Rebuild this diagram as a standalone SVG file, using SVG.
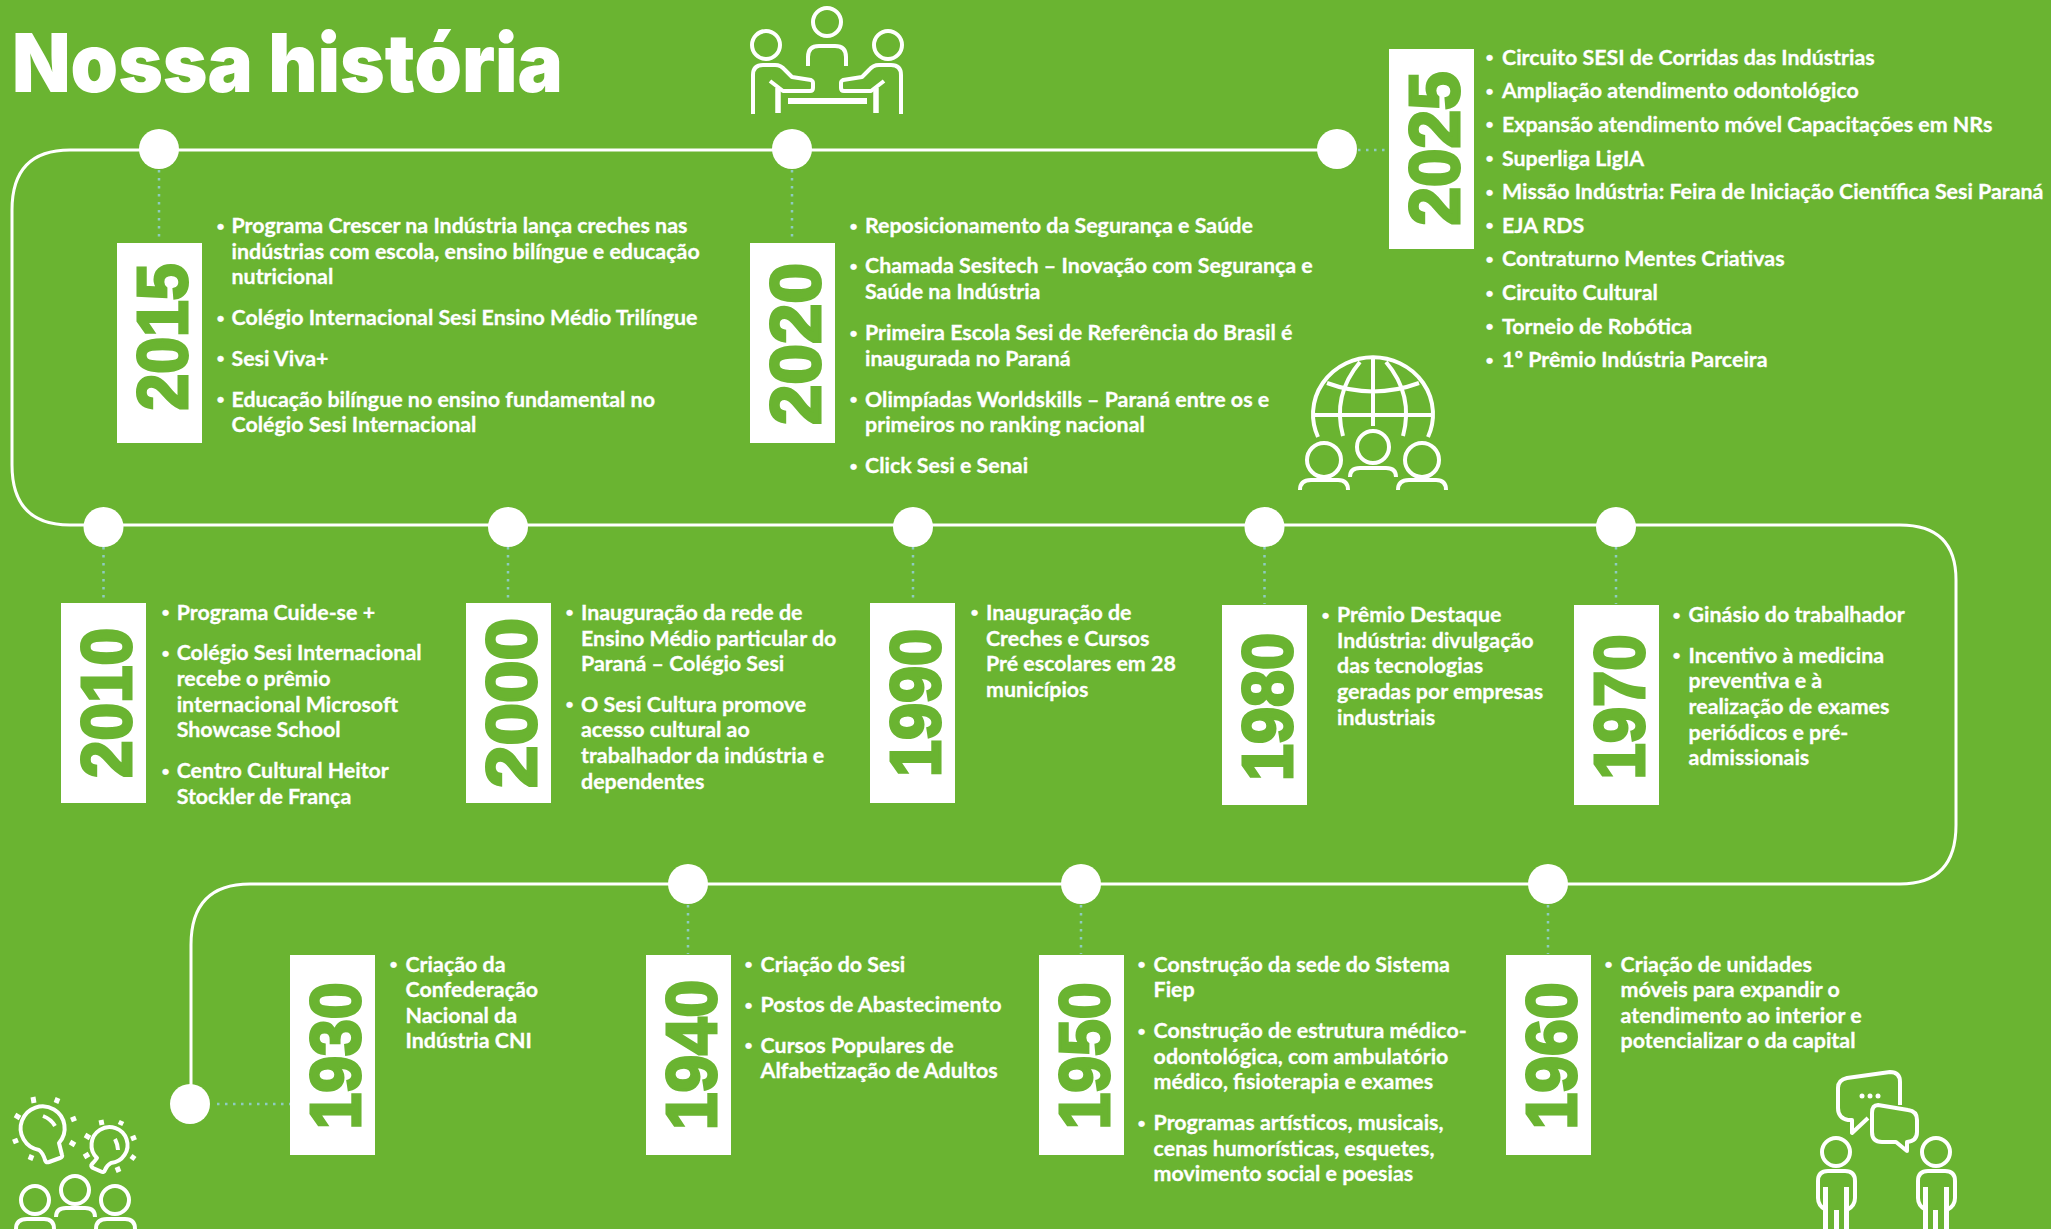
<svg xmlns="http://www.w3.org/2000/svg" width="2051" height="1229" viewBox="0 0 2051 1229">
<style>
.t{font:700 21.4px Lato,"Liberation Sans",sans-serif;fill:#fff;stroke:#fff;stroke-width:.3;white-space:pre;transform:translate(0,1px)}
.b{font-size:14px;transform:translate(1.6px,-2.3px)}
.title{font:900 81px Inter,"Liberation Sans",sans-serif;fill:#fff}
.yr{font:700 71px "Liberation Sans",Arial,sans-serif;fill:#6ab431;stroke:#6ab431;stroke-width:3;text-anchor:middle}
.box{fill:#fff}
.dot{fill:#fff}
.tl{fill:none;stroke:#fff;stroke-width:3}
.dd{fill:none;stroke:#8ecbc0;stroke-width:2.5;stroke-dasharray:2.5 5.5}
.i{fill:none;stroke:#fff;stroke-width:4;stroke-linecap:butt;stroke-linejoin:round}
.f{fill:#fff}
</style>
<rect width="2051" height="1229" fill="#6ab431"/>
<text class="title" x="12" y="92" textLength="551" lengthAdjust="spacingAndGlyphs">Nossa história</text>
<g id="connectors">
<path class="tl" d="M1337 150H70Q12 150 12 210V465Q12 525 70 525H1900Q1956 525 1956 580V825Q1956 884 1900 884H250Q191 884 191 945V1104"/>
<path class="dd" d="M159 170V240M792 170V240M1358 150H1387M103.500 547V602M508 547V602M913 547V602M1264.500 547V604M1616 547V604M688 905V954M1081 905V954M1548 905V954M217 1104H290"/>
</g>
<g id="y2015"><circle class="dot" cx="159" cy="149" r="20"/><rect class="box" x="117" y="243" width="85" height="200"/><text class="yr" transform="translate(187 337) rotate(-90)" textLength="147" lengthAdjust="spacingAndGlyphs">2015</text>
<g class="t"><text class="b" x="215" y="232">•</text><text x="231.500" y="232">Programa Crescer na Indústria lança creches nas</text><text x="231.500" y="257.500">indústrias com escola, ensino bilíngue e educação</text><text x="231.500" y="283">nutricional</text><text class="b" x="215" y="324">•</text><text x="231.500" y="324">Colégio Internacional Sesi Ensino Médio Trilíngue</text><text class="b" x="215" y="364.500">•</text><text x="231.500" y="364.500">Sesi Viva+</text><text class="b" x="215" y="405.500">•</text><text x="231.500" y="405.500">Educação bilíngue no ensino fundamental no</text><text x="231.500" y="431">Colégio Sesi Internacional</text></g></g>
<g id="y2020"><circle class="dot" cx="792" cy="149" r="20"/><rect class="box" x="750" y="243" width="85" height="200"/><text class="yr" transform="translate(820 344) rotate(-90)" textLength="162" lengthAdjust="spacingAndGlyphs">2020</text>
<g class="t"><text class="b" x="848" y="232">•</text><text x="865" y="232">Reposicionamento da Segurança e Saúde</text><text class="b" x="848" y="272">•</text><text x="865" y="272">Chamada Sesitech – Inovação com Segurança e</text><text x="865" y="298">Saúde na Indústria</text><text class="b" x="848" y="339">•</text><text x="865" y="339">Primeira Escola Sesi de Referência do Brasil é</text><text x="865" y="365">inaugurada no Paraná</text><text class="b" x="848" y="405.500">•</text><text x="865" y="405.500">Olimpíadas Worldskills – Paraná entre os e</text><text x="865" y="431">primeiros no ranking nacional</text><text class="b" x="848" y="472">•</text><text x="865" y="472">Click Sesi e Senai</text></g></g>
<g id="y2025"><circle class="dot" cx="1337" cy="149" r="20"/><rect class="box" x="1389" y="49" width="85" height="200"/><text class="yr" transform="translate(1459 148.500) rotate(-90)" textLength="154" lengthAdjust="spacingAndGlyphs">2025</text>
<g class="t"><text class="b" x="1484" y="63.500">•</text><text x="1502" y="63.500">Circuito SESI de Corridas das Indústrias</text><text class="b" x="1484" y="97">•</text><text x="1502" y="97">Ampliação atendimento odontológico</text><text class="b" x="1484" y="130.800">•</text><text x="1502" y="130.800">Expansão atendimento móvel Capacitações em NRs</text><text class="b" x="1484" y="164.500">•</text><text x="1502" y="164.500">Superliga LigIA</text><text class="b" x="1484" y="198">•</text><text x="1502" y="198">Missão Indústria: Feira de Iniciação Científica Sesi Paraná</text><text class="b" x="1484" y="231.600">•</text><text x="1502" y="231.600">EJA RDS</text><text class="b" x="1484" y="265.300">•</text><text x="1502" y="265.300">Contraturno Mentes Criativas</text><text class="b" x="1484" y="299">•</text><text x="1502" y="299">Circuito Cultural</text><text class="b" x="1484" y="332.600">•</text><text x="1502" y="332.600">Torneio de Robótica</text><text class="b" x="1484" y="366.300">•</text><text x="1502" y="366.300">1º Prêmio Indústria Parceira</text></g></g>
<g id="y2010"><circle class="dot" cx="103.500" cy="527" r="20"/><rect class="box" x="61" y="603" width="85" height="200"/><text class="yr" transform="translate(131 703) rotate(-90)" textLength="150" lengthAdjust="spacingAndGlyphs">2010</text>
<g class="t"><text class="b" x="160" y="618.700">•</text><text x="176.700" y="618.700">Programa Cuide-se +</text><text class="b" x="160" y="659">•</text><text x="176.700" y="659">Colégio Sesi Internacional</text><text x="176.700" y="685">recebe o prêmio</text><text x="176.700" y="710.700">internacional Microsoft</text><text x="176.700" y="736">Showcase School</text><text class="b" x="160" y="777">•</text><text x="176.700" y="777">Centro Cultural Heitor</text><text x="176.700" y="802.700">Stockler de França</text></g></g>
<g id="y2000"><circle class="dot" cx="508" cy="527" r="20"/><rect class="box" x="466" y="603" width="85" height="200"/><text class="yr" transform="translate(536 703) rotate(-90)" textLength="170" lengthAdjust="spacingAndGlyphs">2000</text>
<g class="t"><text class="b" x="564" y="618.700">•</text><text x="581" y="618.700">Inauguração da rede de</text><text x="581" y="644.500">Ensino Médio particular do</text><text x="581" y="670">Paraná – Colégio Sesi</text><text class="b" x="564" y="710.700">•</text><text x="581" y="710.700">O Sesi Cultura promove</text><text x="581" y="736">acesso cultural ao</text><text x="581" y="761.500">trabalhador da indústria e</text><text x="581" y="787.500">dependentes</text></g></g>
<g id="y1990"><circle class="dot" cx="913" cy="527" r="20"/><rect class="box" x="870" y="603" width="85" height="200"/><text class="yr" transform="translate(940 703) rotate(-90)" textLength="148" lengthAdjust="spacingAndGlyphs">1990</text>
<g class="t"><text class="b" x="969" y="618.700">•</text><text x="986" y="618.700">Inauguração de</text><text x="986" y="644.500">Creches e Cursos</text><text x="986" y="670">Pré escolares em 28</text><text x="986" y="695.500">municípios</text></g></g>
<g id="y1980"><circle class="dot" cx="1264.500" cy="527" r="20"/><rect class="box" x="1222" y="605" width="85" height="200"/><text class="yr" transform="translate(1292 707) rotate(-90)" textLength="148" lengthAdjust="spacingAndGlyphs">1980</text>
<g class="t"><text class="b" x="1320" y="621">•</text><text x="1337" y="621">Prêmio Destaque</text><text x="1337" y="646.700">Indústria: divulgação</text><text x="1337" y="672">das tecnologias</text><text x="1337" y="698">geradas por empresas</text><text x="1337" y="723.500">industriais</text></g></g>
<g id="y1970"><circle class="dot" cx="1616" cy="527" r="20"/><rect class="box" x="1574" y="605" width="85" height="200"/><text class="yr" transform="translate(1644 707) rotate(-90)" textLength="145" lengthAdjust="spacingAndGlyphs">1970</text>
<g class="t"><text class="b" x="1671" y="621">•</text><text x="1688.600" y="621">Ginásio do trabalhador</text><text class="b" x="1671" y="661.500">•</text><text x="1688.600" y="661.500">Incentivo à medicina</text><text x="1688.600" y="687">preventiva e à</text><text x="1688.600" y="713">realização de exames</text><text x="1688.600" y="738.500">periódicos e pré-</text><text x="1688.600" y="764">admissionais</text></g></g>
<g id="y1960"><circle class="dot" cx="1548" cy="884" r="20"/><rect class="box" x="1506" y="955" width="85" height="200"/><text class="yr" transform="translate(1576 1056) rotate(-90)" textLength="147" lengthAdjust="spacingAndGlyphs">1960</text>
<g class="t"><text class="b" x="1603" y="970.600">•</text><text x="1620.600" y="970.600">Criação de unidades</text><text x="1620.600" y="996">móveis para expandir o</text><text x="1620.600" y="1021.700">atendimento ao interior e</text><text x="1620.600" y="1047.300">potencializar o da capital</text></g></g>
<g id="y1950"><circle class="dot" cx="1081" cy="884" r="20"/><rect class="box" x="1039" y="955" width="85" height="200"/><text class="yr" transform="translate(1109 1056) rotate(-90)" textLength="147" lengthAdjust="spacingAndGlyphs">1950</text>
<g class="t"><text class="b" x="1136" y="970.600">•</text><text x="1153.600" y="970.600">Construção da sede do Sistema</text><text x="1153.600" y="996">Fiep</text><text class="b" x="1136" y="1037">•</text><text x="1153.600" y="1037">Construção de estrutura médico-</text><text x="1153.600" y="1062.600">odontológica, com ambulatório</text><text x="1153.600" y="1088">médico,  fisioterapia e exames</text><text class="b" x="1136" y="1129">•</text><text x="1153.600" y="1129">Programas artísticos, musicais,</text><text x="1153.600" y="1154.600">cenas humorísticas, esquetes,</text><text x="1153.600" y="1180">movimento social e poesias</text></g></g>
<g id="y1940"><circle class="dot" cx="688" cy="884" r="20"/><rect class="box" x="646" y="955" width="85" height="200"/><text class="yr" transform="translate(716 1055) rotate(-90)" textLength="150" lengthAdjust="spacingAndGlyphs">1940</text>
<g class="t"><text class="b" x="743" y="970.600">•</text><text x="760.600" y="970.600">Criação do Sesi</text><text class="b" x="743" y="1011">•</text><text x="760.600" y="1011">Postos de Abastecimento</text><text class="b" x="743" y="1051.600">•</text><text x="760.600" y="1051.600">Cursos Populares de</text><text x="760.600" y="1077">Alfabetização de Adultos</text></g></g>
<g id="y1930"><circle class="dot" cx="190" cy="1104" r="20"/><rect class="box" x="290" y="955" width="85" height="200"/><text class="yr" transform="translate(360 1056) rotate(-90)" textLength="147" lengthAdjust="spacingAndGlyphs">1930</text>
<g class="t"><text class="b" x="388" y="970.600">•</text><text x="405.500" y="970.600">Criação da</text><text x="405.500" y="996">Confederação</text><text x="405.500" y="1021.700">Nacional da</text><text x="405.500" y="1047.300">Indústria CNI</text></g></g>
<g id="icon-team" class="i">
<circle cx="827" cy="22" r="14"/><circle cx="766" cy="45" r="14"/><circle cx="888" cy="45" r="14"/>
<path d="M808 66V57Q808 46 819 46H835Q846 46 846 57V66"/>
<path d="M753 114V75Q753 65 763 65H775Q781 65 785 70L792 77L811 80Q813 81 813 83V88Q813 91 810 91H783L770 81"/>
<path d="M901 114V75Q901 65 891 65H879Q873 65 869 70L862 77L843 80Q841 81 841 83V88Q841 91 844 91H871L884 81"/>
<path d="M778 88V113M876 88V113" stroke-width="5.500"/>
<rect class="f" x="788" y="98" width="79" height="6" stroke="none"/>
</g>
<g id="icon-globe" class="i">
<path d="M1318 437A60 57 0 1 1 1428 437"/>
<path d="M1373 358V426M1313 415H1433M1327 383Q1373 400 1419 383"/>
<path d="M1343 436Q1332 395 1360 362M1403 436Q1414 395 1386 362"/>
<circle cx="1373" cy="447" r="16"/><circle cx="1324" cy="460" r="17"/><circle cx="1422" cy="460" r="17"/>
<path d="M1350 477Q1350 468 1360 468H1386Q1396 468 1396 477M1300 490Q1300 480 1311 480H1338Q1348 480 1348 490M1398 490Q1398 480 1409 480H1436Q1446 480 1446 490"/>
</g>
<g id="icon-ideas" class="i">
<path d="M39 1150A22 22 0 1 1 59 1143L62 1155Q63 1157 60 1158L49 1162Q46 1163 45 1160Q43 1153 39 1150Z"/>
<path d="M43 1116Q51 1119 55 1126M115 1139Q118 1145 118 1150"/>
<path d="M97 1158A18 18 0 1 1 111 1163Q107 1165 105 1170Q104 1173 101 1171.500L93 1168Q90 1166 92 1164Q95 1161 97 1158Z"/>
<path stroke-width="5" d="M33 1097L34 1103M58 1098L56 1103M76 1118L71 1120M75 1145L70 1142M30 1160L32 1155M13 1142L18 1140M15 1115L20 1118M101 1120L102 1125M122 1121L120 1125M136 1137L131 1139M135 1159L131 1156M119 1172L117 1167M84 1157L89 1154M85 1135L90 1138"/>
<circle cx="75" cy="1190" r="14"/><circle cx="35" cy="1200" r="14"/><circle cx="115" cy="1200" r="14"/>
<path d="M16 1229Q16 1219 27 1219H44Q54 1219 54 1229M56 1217Q56 1208 66 1208H85Q95 1208 95 1217M96 1229Q96 1219 107 1219H125Q135 1219 135 1229"/>
</g>
<g id="icon-talk" class="i">
<circle cx="1836" cy="1152" r="14"/><circle cx="1936" cy="1152" r="14"/>
<path d="M1826 1210Q1818 1206 1818 1198V1181Q1818 1171 1828 1171H1845Q1855 1171 1855 1181V1198Q1855 1206 1847 1210M1926 1210Q1918 1206 1918 1198V1181Q1918 1171 1928 1171H1945Q1955 1171 1955 1181V1198Q1955 1206 1947 1210"/>
<g class="f" stroke="none"><rect x="1823" y="1187" width="5" height="42"/><rect x="1834" y="1210" width="5" height="19"/><rect x="1844" y="1187" width="5" height="42"/><rect x="1923" y="1187" width="5" height="42"/><rect x="1933" y="1210" width="5" height="19"/><rect x="1944" y="1187" width="5" height="42"/><circle cx="1862" cy="1096" r="2.500"/><circle cx="1870" cy="1096" r="2.500"/><circle cx="1878" cy="1096" r="2.500"/></g>
<path d="M1868 1118L1852 1133V1120H1848Q1838 1118 1838 1108V1088Q1838 1080 1847 1078L1890 1072Q1900 1072 1900 1082V1105"/>
<path d="M1878 1105L1908 1110Q1917 1111 1917 1120V1132Q1917 1141 1907 1142V1151L1896 1142H1882Q1872 1142 1872 1132V1113Q1872 1105 1878 1105Z"/>
</g>
</svg>
